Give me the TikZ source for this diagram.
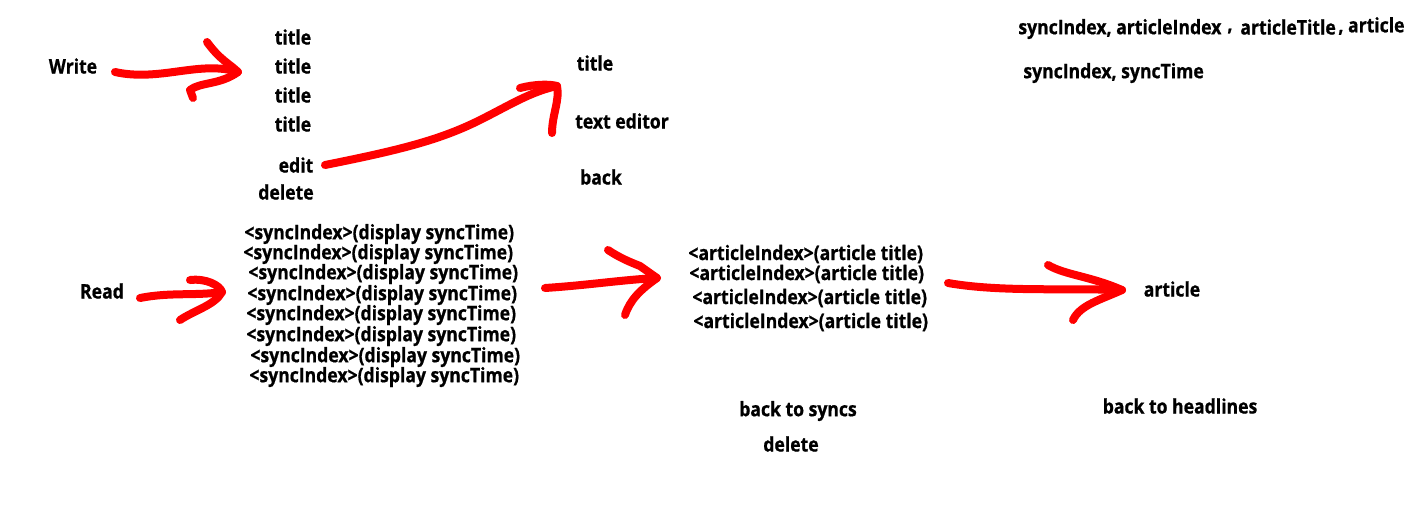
\documentclass[tikz,border=0pt]{standalone}
\usepackage{fontspec}
\setmainfont{Open Sans}[FakeStretch=0.88,BoldFeatures={FakeBold=0.8}]
\begin{document}
\begin{tikzpicture}[x=0.5pt,y=-0.5pt,
  lbl/.style={inner sep=0pt,font=\fontsize{10}{12}\selectfont\bfseries,anchor=center},
  lblw/.style={lbl,anchor=west},
  stroke/.style={draw=red,line width=4pt,line cap=round,line join=round}]
\useasboundingbox[fill=white] (0,0) rectangle (1416,516);
% Write part
\node[lbl] (write) at (73,66) {Write};
\node[lbl] (t1) at (293,37) {title};
\node[lbl] (t2) at (293,66) {title};
\node[lbl] (t3) at (293,95) {title};
\node[lbl] (t4) at (293,124) {title};
\node[lbl] (edit) at (296,165) {edit};
\node[lbl] (del1) at (286,192) {delete};
\node[lbl] (etitle) at (595,63) {title};
\node[lbl] (editor) at (622,121) {text editor};
\node[lbl] (back) at (601,177) {back};
% legend
\node[lblw] (h1) at (1018,29) {syncIndex, articleIndex};
\node[lbl] (h2) at (1230,31) {,};
\node[lblw] (h3) at (1240,27) {articleTitle};
\node[lblw] (h4) at (1338,26) {, article};
\node[lblw] (h5) at (1023,73) {syncIndex, syncTime};
% Read part
\node[lbl] (read) at (102,291) {Read};
\foreach \y/\x [count=\i] in {234/244,254/243,274/248,295/247,315/246,336/246,357/250,377/249}
  \node[lblw] (s\i) at (\x,\y) {<syncIndex>(display syncTime)};
\foreach \y/\x [count=\i] in {254/688,274/689,298/692,322/693}
  \node[lblw] (a\i) at (\x,\y) {<articleIndex>(article title)};
\node[lbl] (art) at (1172,289) {article};
\node[lbl] (bsync) at (798,411) {back to syncs};
\node[lbl] (del2) at (791,444) {delete};
\node[lbl] (bhead) at (1180,406) {back to headlines};
% arrows
\coordinate (w0) at (115,72);
\coordinate (w1) at (238,72);
\draw[stroke] (w0) .. controls (160,82) and (200,60) .. (w1);
\draw[stroke] (207,42) .. controls (220,60) and (230,64) .. (w1) .. controls (220,85) and (200,82) .. (190,90) -- (193,98);
\coordinate (e0) at (325,165);
\coordinate (e1) at (557,86);
\draw[stroke] (e0) .. controls (400,150) and (440,140) .. (480,120) .. controls (510,105) and (530,92) .. (e1);
\draw[stroke] (520,88) .. controls (535,84) and (550,84) .. (e1) .. controls (560,100) and (552,115) .. (552,133);
\coordinate (r0) at (140,298);
\coordinate (r1) at (222,292);
\draw[stroke] (r0) .. controls (170,292) and (195,296) .. (r1);
\draw[stroke] (190,280) .. controls (205,278) and (220,285) .. (r1) .. controls (215,305) and (195,310) .. (180,320);
\coordinate (p0) at (545,288);
\coordinate (p1) at (657,278);
\draw[stroke] (p0) .. controls (590,285) and (620,280) .. (p1);
\draw[stroke] (608,250) .. controls (620,258) and (630,262) .. (640,266) -- (p1) .. controls (640,290) and (630,300) .. (625,315);
\coordinate (q0) at (948,283);
\coordinate (q1) at (1122,290);
\draw[stroke] (q0) .. controls (1000,292) and (1060,288) .. (q1);
\draw[stroke] (1048,265) .. controls (1065,275) and (1090,276) .. (q1) .. controls (1100,300) and (1080,305) .. (1073,320);
\end{tikzpicture}
\end{document}
